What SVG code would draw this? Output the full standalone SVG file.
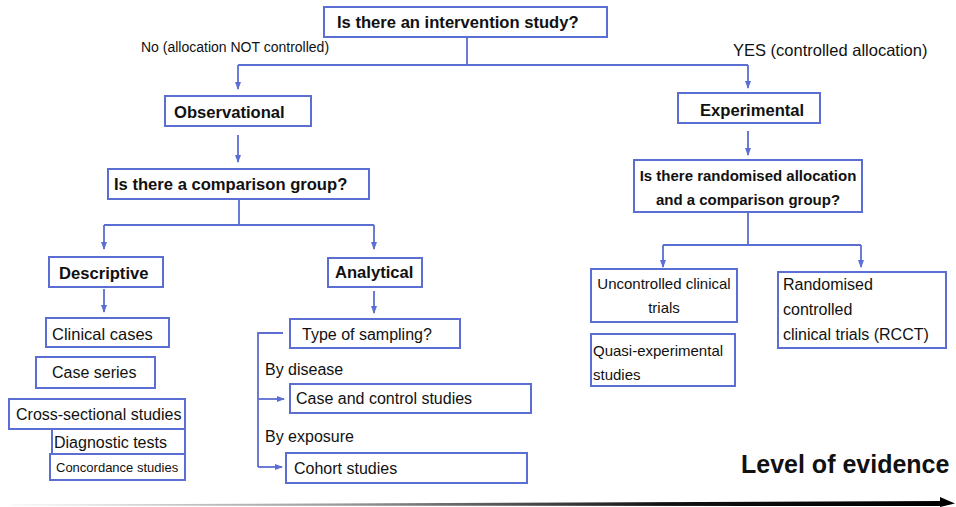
<svg xmlns="http://www.w3.org/2000/svg" width="956" height="507" viewBox="0 0 956 507">
<style>
.box{fill:#fff;stroke:#5a6ed4;stroke-width:2}
.ln{fill:none;stroke:#5a6ed4;stroke-width:1.8}
.t{font-family:"Liberation Sans",Arial,sans-serif;font-size:16px;fill:#111}
.b{font-weight:bold;font-size:16.6px}
</style>
<defs>
<marker id="ah" markerUnits="userSpaceOnUse" markerWidth="8" markerHeight="8" viewBox="0 0 8 8" refX="7" refY="4" orient="auto">
<path d="M0,1 L8,4 L0,7 Z" fill="#5a6ed4"/>
</marker>
<linearGradient id="ev" x1="0" y1="0" x2="1" y2="0">
<stop offset="0" stop-color="#f2f2f2"/>
<stop offset="0.35" stop-color="#9a9a9a"/>
<stop offset="0.7" stop-color="#111"/>
<stop offset="1" stop-color="#000"/>
</linearGradient>
</defs>
<rect width="956" height="507" fill="#fff"/>
<g id="connectors">
<path class="ln" d="M467,37 V65 M238,65 H748"/>
<path class="ln" d="M238,65 V89" marker-end="url(#ah)"/>
<path class="ln" d="M748,65 V88" marker-end="url(#ah)"/>
<path class="ln" d="M238,135 V162" marker-end="url(#ah)"/>
<path class="ln" d="M239,199 V225 M104,225 H374"/>
<path class="ln" d="M104,225 V249" marker-end="url(#ah)"/>
<path class="ln" d="M374,225 V249" marker-end="url(#ah)"/>
<path class="ln" d="M104,289 V312" marker-end="url(#ah)"/>
<path class="ln" d="M374,291 V313" marker-end="url(#ah)"/>
<path class="ln" d="M283,333 H258 V467"/>
<path class="ln" d="M258,399 H284" marker-end="url(#ah)"/>
<path class="ln" d="M258,467 H282" marker-end="url(#ah)"/>
<path class="ln" d="M748,131 V155" marker-end="url(#ah)"/>
<path class="ln" d="M748,212 V245 M663,245 H861"/>
<path class="ln" d="M663,245 V267" marker-end="url(#ah)"/>
<path class="ln" d="M861,245 V267" marker-end="url(#ah)"/>
</g>
<g id="labels">
<text class="t" x="141" y="52" style="font-size:14px">No (allocation NOT controlled)</text>
<text class="t" x="733" y="56" style="font-size:16.5px">YES (controlled allocation)</text>
<text class="t" x="265" y="375">By disease</text>
<text class="t" x="265" y="442">By exposure</text>
</g>
<g id="n-top"><rect class="box" x="324" y="7" width="283" height="30"/><text class="t b" x="337" y="28">Is there an intervention study?</text></g>
<g id="n-observational"><rect class="box" x="165" y="96" width="146" height="30"/><text class="t b" x="174" y="118">Observational</text></g>
<g id="n-comparison"><rect class="box" x="108" y="169" width="261" height="30"/><text class="t b" x="114" y="190">Is there a comparison group?</text></g>
<g id="n-descriptive"><rect class="box" x="49" y="257" width="114" height="30"/><text class="t b" x="59" y="279">Descriptive</text></g>
<g id="n-analytical"><rect class="box" x="328" y="258" width="94" height="29"/><text class="t b" x="335" y="278">Analytical</text></g>
<g id="n-clinical"><rect class="box" x="46" y="318" width="123" height="29"/><text class="t" x="52" y="340" style="font-size:16.5px">Clinical cases</text></g>
<g id="n-caseseries"><rect class="box" x="36" y="357" width="119" height="31"/><text class="t" x="52" y="378">Case series</text></g>
<g id="n-crosssectional"><rect class="box" x="9" y="399" width="176" height="30"/><text class="t" x="16" y="420">Cross-sectional studies</text></g>
<g id="n-diagnostic"><rect class="box" x="52" y="429" width="133" height="25"/><text class="t" x="54" y="448">Diagnostic tests</text></g>
<g id="n-concordance"><rect class="box" x="50" y="454" width="135" height="26"/><text class="t" x="56" y="472" style="font-size:13px">Concordance studies</text></g>
<g id="n-sampling"><rect class="box" x="290" y="319" width="170" height="29"/><text class="t" x="302" y="340">Type of sampling?</text></g>
<g id="n-casecontrol"><rect class="box" x="290" y="384" width="241" height="29"/><text class="t" x="296" y="404">Case and control studies</text></g>
<g id="n-cohort"><rect class="box" x="286" y="453" width="241" height="30"/><text class="t" x="294" y="474">Cohort studies</text></g>
<g id="n-experimental"><rect class="box" x="678" y="93" width="142" height="30"/><text class="t b" x="700" y="116">Experimental</text></g>
<g id="n-randomised-q"><rect class="box" x="634" y="160" width="228" height="52"/><text class="t b" x="748" y="181" text-anchor="middle" style="font-size:15px">Is there randomised allocation</text><text class="t b" x="748" y="205" text-anchor="middle" style="font-size:15px">and a comparison group?</text></g>
<g id="n-uncontrolled"><rect class="box" x="591" y="269" width="146" height="53"/><text class="t" x="664" y="289" text-anchor="middle" style="font-size:15px">Uncontrolled clinical</text><text class="t" x="664" y="313" text-anchor="middle" style="font-size:15px">trials</text></g>
<g id="n-quasi"><rect class="box" x="591" y="334" width="144" height="52"/><text class="t" x="593" y="356" style="font-size:15px">Quasi-experimental</text><text class="t" x="593" y="380" style="font-size:15px">studies</text></g>
<g id="n-rcct"><rect class="box" x="778" y="272" width="168" height="76"/><text class="t" x="783" y="290">Randomised</text><text class="t" x="783" y="315">controlled</text><text class="t" x="783" y="340">clinical trials (RCCT)</text></g>
<g id="evidence">
<text class="t b" x="741" y="473" style="font-size:25px">Level of evidence</text>
<polygon points="12,504.6 942,501 942,506 12,505.6" fill="url(#ev)"/>
<polygon points="940,497 955,503.5 940,507" fill="#000"/>
</g>
</svg>
